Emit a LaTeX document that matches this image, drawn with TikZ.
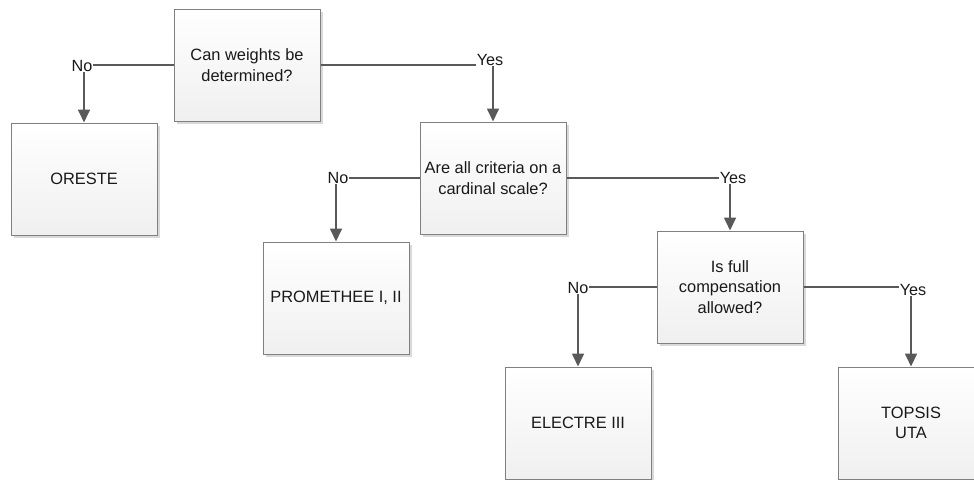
\documentclass[tikz,border=0pt]{standalone}
\usepackage{fontspec}
\setmainfont{Liberation Sans}
\usetikzlibrary{arrows.meta,shadows,calc}
\definecolor{linec}{HTML}{595959}
\definecolor{borderc}{HTML}{808080}
\tikzset{
  box/.style={draw=borderc, line width=1pt, minimum width=146pt, minimum height=112pt,
    inner sep=2pt, align=center, top color=white, bottom color=black!6,
    drop shadow={shadow xshift=2.5pt, shadow yshift=-2.5pt, fill=black!25, opacity=0.6},
    font=\fontsize{16.4}{20.5}\selectfont, text=black!90},
  lbl/.style={inner sep=0.5pt, font=\fontsize{16.2}{19}\selectfont, text=black!90},
  conn/.style={draw=linec, line width=1.7pt},
  arr/.style={conn, -{Triangle[width=12pt,length=13pt]}}
}
\begin{document}
\begin{tikzpicture}[x=1pt,y=-1pt]
\useasboundingbox (0,0) rectangle (974,479);
\clip (0,0) rectangle (974,479);
% boxes
\node[box] (q1) at (247,65) {Can weights be\\determined?};
\node[box] (oreste) at (84,179) {ORESTE};
\node[box] (q2) at (493,178) {Are all criteria on a\\cardinal scale?};
\node[box] (prom) at (336,298) {PROMETHEE I, II};
\node[box] (q3) at (730,287) {Is full\\compensation\\allowed?};
\node[box] (electre) at (578,423) {ELECTRE III};
\node[box] (topsis) at (911,423) {TOPSIS\\UTA};
% labels
\node[lbl] (no1) at (82,66) {No};
\node[lbl] (yes1) at (490,60) {Yes};
\node[lbl] (no2) at (338,178) {No};
\node[lbl] (yes2) at (733,178) {Yes};
\node[lbl] (no3) at (578,288) {No};
\node[lbl] (yes3) at (913,290) {Yes};
% connectors
\draw[conn] (q1.west) -- (q1.west -| no1.east);
\draw[arr] (no1.south -| oreste.north) -- (oreste.north);
\draw[conn] (q1.east) -- (q1.east -| yes1.west);
\draw[arr] (yes1.south -| q2.north) -- (q2.north);
\draw[conn] (q2.west) -- (q2.west -| no2.east);
\draw[arr] (no2.south -| prom.north) -- (prom.north);
\draw[conn] (q2.east) -- (q2.east -| yes2.west);
\draw[arr] (yes2.south -| q3.north) -- (q3.north);
\draw[conn] (q3.west) -- (q3.west -| no3.east);
\draw[arr] (no3.south -| electre.north) -- (electre.north);
\draw[conn] (q3.east) -- (q3.east -| yes3.west);
\draw[arr] (yes3.south -| topsis.north) -- (topsis.north);
\end{tikzpicture}
\end{document}
